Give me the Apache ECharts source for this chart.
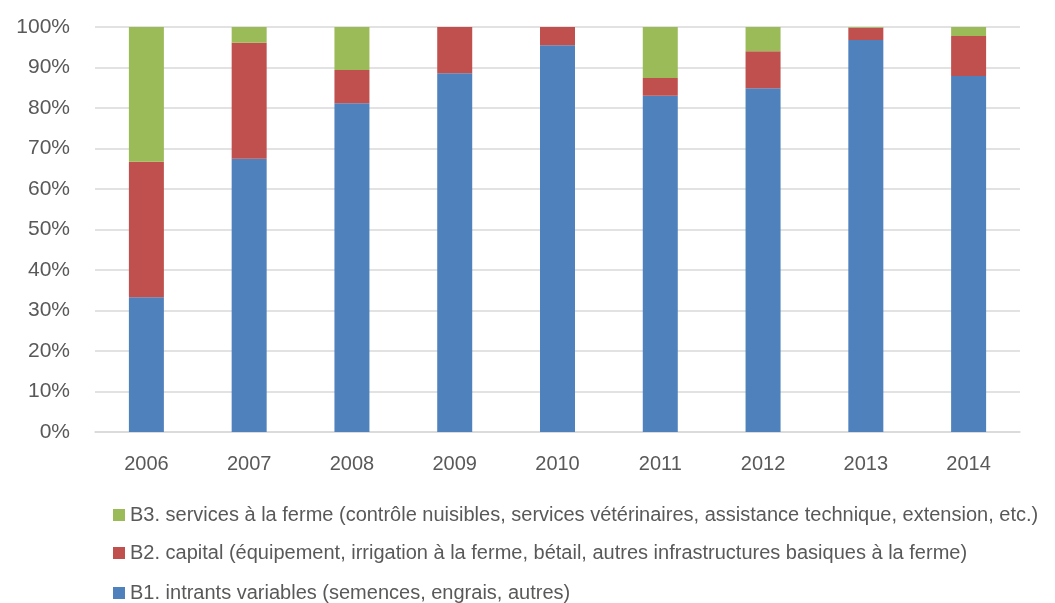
<!DOCTYPE html>
<html>
<head>
<meta charset="utf-8">
<script src="https://cdn.jsdelivr.net/npm/echarts@6/dist/echarts.min.js"></script>
<style>
  html, body { margin: 0; padding: 0; background: #fff; }
  #chart { width: 1055px; height: 603px; }
</style>
</head>
<body>
<div id="chart"></div>
<script>
// années
const years = ['2006', '2007', '2008', '2009', '2010', '2011', '2012', '2013', '2014'];
// parts en %
const b1 = [33.3, 67.5, 81.2, 88.6, 95.5, 83.0, 84.9, 96.8, 87.9];
const b2 = [33.4, 28.6, 8.2, 11.4, 4.5, 4.4, 9.1, 3.0, 9.9];
const b3 = [33.3, 3.9, 10.6, 0, 0, 12.6, 6.0, 0.2, 2.2];
const names = [
  'B1. intrants variables (semences, engrais, autres)',
  'B2. capital (équipement, irrigation à la ferme, bétail, autres infrastructures basiques à la ferme)',
  'B3. services à la ferme (contrôle nuisibles, services vétérinaires, assistance technique, extension, etc.)'
];
const colors = ['#4F81BD', '#C0504D', '#9BBB59'];

const myChart = echarts.init(document.getElementById('chart'));
const font = '"Liberation Sans", Arial, sans-serif';
const mkSeries = (name, data, color) => ({
  name: name,
  type: 'bar',
  stack: 'total',
  data: data,
  barWidth: 35,
  itemStyle: { color: color },
  emphasis: { disabled: true }
});
// une légende par ligne (B3 en haut, B1 en bas)
const mkLegend = (name, top) => ({
  left: 108,
  top: top,
  itemWidth: 12,
  itemHeight: 12,
  icon: 'rect',
  data: [name],
  textStyle: { fontSize: 20, color: '#595959', fontFamily: font }
});
const option = {
  animation: false,
  textStyle: { fontFamily: font },
  grid: { left: 95, right: 35, top: 27, bottom: 171 },
  legend: [
    mkLegend(names[2], 500),
    mkLegend(names[1], 538),
    mkLegend(names[0], 578)
  ],
  xAxis: {
    type: 'category',
    data: years,
    axisLine: { lineStyle: { color: '#D9D9D9', width: 1.5 } },
    axisTick: { show: false },
    axisLabel: { fontSize: 20, color: '#595959', margin: 22 }
  },
  yAxis: {
    type: 'value',
    min: 0,
    max: 100,
    interval: 10,
    axisLine: { show: false },
    axisTick: { show: false },
    splitLine: { lineStyle: { color: '#D9D9D9', width: 1.5 } },
    axisLabel: { fontSize: 21, color: '#595959', margin: 25, formatter: '{value}%' }
  },
  series: [
    mkSeries(names[0], b1, colors[0]),
    mkSeries(names[1], b2, colors[1]),
    mkSeries(names[2], b3, colors[2])
  ]
};
myChart.setOption(option);
</script>
</body>
</html>
